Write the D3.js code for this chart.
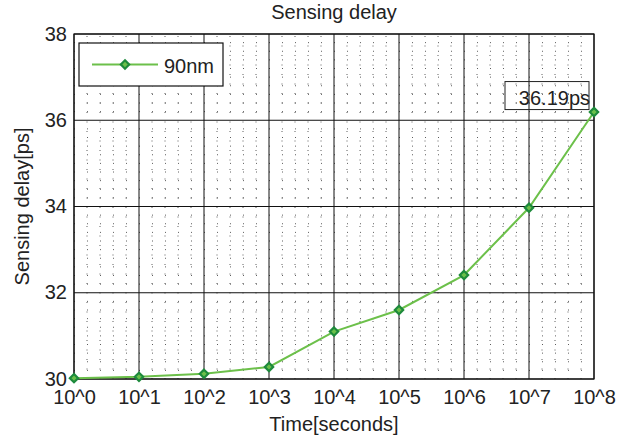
<!DOCTYPE html>
<html>
<head>
<meta charset="utf-8">
<script src="https://cdn.jsdelivr.net/npm/d3@7"></script>
<style>
  body { margin: 0; background: #fff; }
  text { font-family: "Liberation Sans", Arial, sans-serif; fill: #222; }
</style>
</head>
<body>
<div id="chart"></div>
<script>
// values
var exponents = [0, 1, 2, 3, 4, 5, 6, 7, 8];
var delays = [30.02, 30.05, 30.12, 30.28, 31.1, 31.6, 32.41, 33.97, 36.19];
var yTicks = [30, 32, 34, 36, 38];
var seriesName = "90nm";
var noteText = "36.19ps";

var width = 632, height = 441;
var margin = {top: 34, right: 38, bottom: 62, left: 74};
var fs = 20;

var svg = d3.select("#chart").append("svg")
    .attr("width", width)
    .attr("height", height);

var x = d3.scaleLinear().domain([0, 8]).range([margin.left, width - margin.right]);
var y = d3.scaleLinear().domain([30, 38]).range([height - margin.bottom, margin.top]);

var g = svg.append("g");

// minor grid (dotted)
var minorX = d3.range(0, 8.001, 0.2).filter(function(v) { return Math.abs(v - Math.round(v)) > 1e-6; });
var minorY = d3.range(30, 38.001, 0.2).filter(function(v) { return Math.abs(v / 2 - Math.round(v / 2)) > 1e-6; });

g.selectAll("line.minx").data(minorX).enter().append("line")
    .attr("x1", d => x(d)).attr("x2", d => x(d))
    .attr("y1", y(30)).attr("y2", y(38))
    .attr("stroke", "#333").attr("stroke-width", 0.8)
    .attr("stroke-dasharray", "1,8.5");
g.selectAll("line.miny").data(minorY).enter().append("line")
    .attr("x1", x(0)).attr("x2", x(8))
    .attr("y1", d => y(d)).attr("y2", d => y(d))
    .attr("stroke", "#333").attr("stroke-width", 0.8)
    .attr("stroke-dasharray", "1,12");

// major grid
g.selectAll("line.majx").data(exponents).enter().append("line")
    .attr("x1", d => x(d)).attr("x2", d => x(d))
    .attr("y1", y(30)).attr("y2", y(38))
    .attr("stroke", "#111").attr("stroke-width", 1);
g.selectAll("line.majy").data(yTicks).enter().append("line")
    .attr("x1", x(0)).attr("x2", x(8))
    .attr("y1", d => y(d)).attr("y2", d => y(d))
    .attr("stroke", "#111").attr("stroke-width", 1);

// frame
g.append("rect")
    .attr("x", x(0)).attr("y", y(38))
    .attr("width", x(8) - x(0)).attr("height", y(30) - y(38))
    .attr("fill", "none").attr("stroke", "#111").attr("stroke-width", 1.2);

// axes
var xAxis = d3.axisBottom(x).tickValues(exponents)
    .tickFormat(d => "10^" + d).tickSize(0).tickPadding(11);
var yAxis = d3.axisLeft(y).tickValues(yTicks)
    .tickFormat(d3.format("d")).tickSize(0).tickPadding(7);

var xa = svg.append("g").attr("transform", "translate(0," + y(30) + ")").call(xAxis);
var ya = svg.append("g").attr("transform", "translate(" + x(0) + ",0)").call(yAxis);
[xa, ya].forEach(function(a) {
  a.select(".domain").remove();
  a.selectAll("text").attr("font-size", fs).attr("fill", "#222")
    .attr("font-family", "Liberation Sans, Arial, sans-serif");
});
ya.selectAll("text").attr("dy", "0.3em");

// title and labels
svg.append("text").attr("x", (x(0) + x(8)) / 2).attr("y", 18.5)
    .attr("text-anchor", "middle").attr("font-size", fs).text("Sensing delay");
svg.append("text").attr("x", (x(0) + x(8)) / 2).attr("y", 431)
    .attr("text-anchor", "middle").attr("font-size", fs).text("Time[seconds]");
svg.append("text")
    .attr("transform", "translate(29," + (y(30) + y(38)) / 2 + ") rotate(-90)")
    .attr("text-anchor", "middle").attr("font-size", fs).text("Sensing delay[ps]");

// series
var lineColor = "#6cc04a", markerColor = "#1d8a3c";
var line = d3.line().x((d, i) => x(exponents[i])).y(d => y(d));
svg.append("path").datum(delays)
    .attr("d", line).attr("fill", "none")
    .attr("stroke", lineColor).attr("stroke-width", 2);

var diamond = d3.symbol().type(d3.symbolDiamond2).size(44);
svg.selectAll("path.mk").data(delays).enter().append("path")
    .attr("transform", (d, i) => "translate(" + x(exponents[i]) + "," + y(d) + ")")
    .attr("d", diamond)
    .attr("fill", lineColor).attr("stroke", markerColor).attr("stroke-width", 2.2);

// annotation box
var last = delays[delays.length - 1];
var nx = x(8) - 5, ny = y(last) - 2.5;
svg.append("rect").attr("x", nx - 84).attr("y", ny - 28)
    .attr("width", 84).attr("height", 28)
    .attr("fill", "none").attr("stroke", "#222").attr("stroke-width", 1);
svg.append("text").attr("x", nx + 1).attr("y", ny - 5)
    .attr("text-anchor", "end").attr("font-size", fs).text(noteText);

// legend
var leg = svg.append("g");
leg.append("rect").attr("x", 79).attr("y", 43).attr("width", 144).attr("height", 43)
    .attr("fill", "#fff").attr("stroke", "#111").attr("stroke-width", 1.2);
leg.append("line").attr("x1", 92).attr("x2", 158).attr("y1", 64.5).attr("y2", 64.5)
    .attr("stroke", lineColor).attr("stroke-width", 2);
leg.append("path").attr("transform", "translate(125,64.5)").attr("d", diamond)
    .attr("fill", lineColor).attr("stroke", markerColor).attr("stroke-width", 2.2);
leg.append("text").attr("x", 164).attr("y", 72.5).attr("font-size", fs).text(seriesName);
</script>
</body>
</html>
